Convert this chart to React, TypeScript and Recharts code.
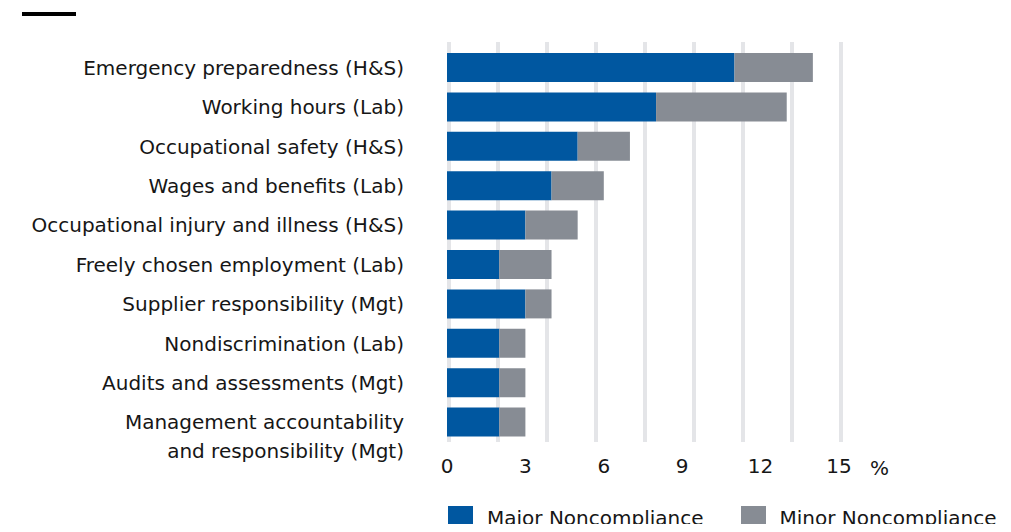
import React from "react";
import { BarChart, Bar, XAxis, YAxis, CartesianGrid } from "recharts";

const categories = [
  "Emergency preparedness (H&S)",
  "Working hours (Lab)",
  "Occupational safety (H&S)",
  "Wages and benefits (Lab)",
  "Occupational injury and illness (H&S)",
  "Freely chosen employment (Lab)",
  "Supplier responsibility (Mgt)",
  "Nondiscrimination (Lab)",
  "Audits and assessments (Mgt)",
  "Management accountability\nand responsibility (Mgt)",
];
const majorValues = [11, 8, 5, 4, 3, 2, 3, 2, 2, 2];
const minorValues = [3, 5, 2, 2, 2, 2, 1, 1, 1, 1];
const xTicks = [0, 3, 6, 9, 12, 15];
const gridValues = [0, 1.875, 3.75, 5.625, 7.5, 9.375, 11.25, 13.125, 15];
const seriesNames = ["Major Noncompliance", "Minor Noncompliance"];

const BLUE = "#0057a0";
const GRAY = "#878c94";
const GRID = "#e4e5e8";
const TEXT = "#161616";
const FONT = "'DejaVu Sans', sans-serif";
const FS = 20;

const data = categories.map((name, i) => ({
  name,
  major: majorValues[i],
  minor: minorValues[i],
}));

const YTick = (props: any) => {
  const { x, y, payload } = props;
  const lines = String(payload.value).split("\n");
  return (
    <text x={x} y={y} textAnchor="end" fill={TEXT} fontSize={FS} fontFamily={FONT}>
      {lines.map((l, i) => (
        <tspan key={i} x={x} dy={i === 0 ? "0.35em" : 29}>
          {l}
        </tspan>
      ))}
    </text>
  );
};

const GridLine = (props: any) => {
  const { x1, x2, y1, y2 } = props;
  return <line x1={x1 + 2} x2={x2 + 2} y1={y1} y2={y2} stroke={GRID} strokeWidth={4} />;
};

export default function App() {
  return (
    <div style={{ position: "relative", margin: -8, width: 1011, height: 532, background: "#fff", overflow: "hidden" }}>
      <div style={{ position: "absolute", left: 22, top: 12, width: 54, height: 4, background: "#000" }} />
      <BarChart
        width={1011}
        height={532}
        data={data}
        layout="vertical"
        margin={{ top: 42, right: 172, bottom: 60, left: 0 }}
      >
        <CartesianGrid
          horizontal={false}
          vertical={GridLine}
          verticalValues={gridValues}
          stroke={GRID}
          strokeWidth={4}
        />
        <XAxis
          type="number"
          domain={[0, 15]}
          ticks={xTicks}
          axisLine={false}
          tickLine={false}
          tickSize={0}
          tickMargin={17}
          height={30}
          tick={{ fill: TEXT, fontSize: FS, fontFamily: FONT }}
          label={{ value: "%", position: "right", offset: 31, dy: 11, fill: TEXT, fontSize: FS, fontFamily: FONT }}
        />
        <YAxis
          type="category"
          dataKey="name"
          width={447}
          axisLine={false}
          tickLine={false}
          tickSize={0}
          tickMargin={43}
          interval={0}
          padding={{ top: 6, bottom: 0 }}
          tick={<YTick />}
        />
        <Bar dataKey="major" name={seriesNames[0]} stackId="a" fill={BLUE} barSize={29} isAnimationActive={false} />
        <Bar dataKey="minor" name={seriesNames[1]} stackId="a" fill={GRAY} barSize={29} isAnimationActive={false} />
      </BarChart>
      <div
        style={{
          position: "absolute",
          left: 448,
          top: 506,
          display: "flex",
          alignItems: "flex-start",
          fontFamily: FONT,
          fontSize: FS,
          color: TEXT,
        }}
      >
        {seriesNames.map((n, i) => (
          <div key={n} style={{ display: "flex", alignItems: "flex-start", marginRight: i === 0 ? 37 : 0 }}>
            <div style={{ width: 25, height: 26, background: i === 0 ? BLUE : GRAY, marginRight: 14 }} />
            <span style={{ whiteSpace: "nowrap", lineHeight: "24px" }}>{n}</span>
          </div>
        ))}
      </div>
    </div>
  );
}
